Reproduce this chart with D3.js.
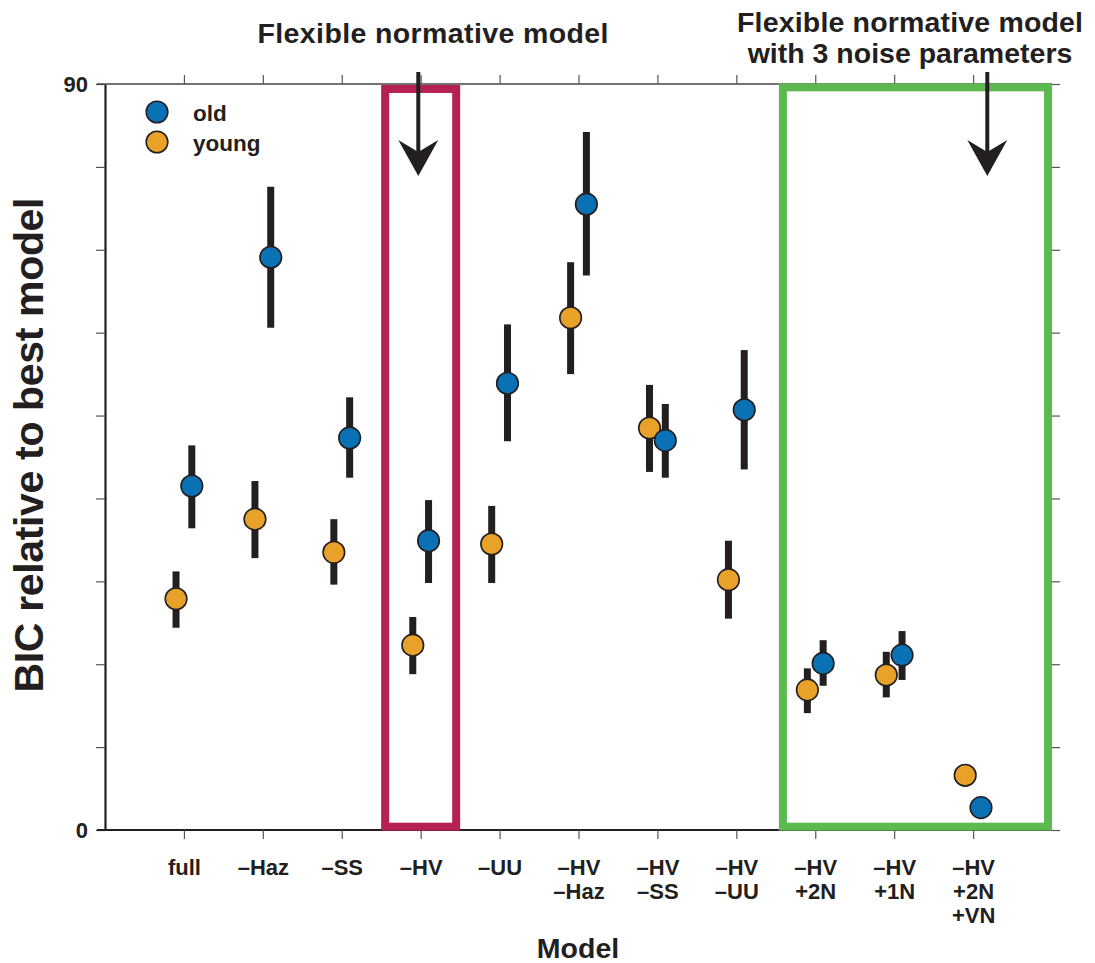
<!DOCTYPE html>
<html>
<head>
<meta charset="utf-8">
<script src="https://cdn.jsdelivr.net/npm/d3@7"></script>
<style>
  body { margin: 0; background: #fff; }
  svg text { font-family: "Liberation Sans", Arial, sans-serif; font-weight: bold; fill: #231f20; }
</style>
</head>
<body>
<svg id="chart" width="1095" height="963"></svg>
<script>
// model names (one entry per x position, lines split on "|")
const models = ["full", "–Haz", "–SS", "–HV", "–UU", "–HV|–Haz", "–HV|–SS", "–HV|–UU", "–HV|+2N", "–HV|+1N", "–HV|+2N|+VN"];

// BIC relative to best model, mean and error bar ends
const oldMean = [41.5, 69.1, 47.3, 34.9, 53.9, 75.5, 47.0, 50.7, 20.1, 21.1, 2.7];
const oldHi   = [46.4, 77.6, 52.2, 39.8, 61.0, 84.2, 51.4, 57.9, 22.9, 24.0, 2.7];
const oldLo   = [36.4, 60.6, 42.5, 29.8, 46.9, 66.9, 42.5, 43.5, 17.4, 18.1, 2.7];

const youngMean = [27.9, 37.5, 33.5, 22.3, 34.5, 61.8, 48.5, 30.2, 16.9, 18.7, 6.6];
const youngHi   = [31.2, 42.1, 37.5, 25.7, 39.1, 68.5, 53.7, 34.9, 19.5, 21.5, 6.6];
const youngLo   = [24.4, 32.8, 29.6, 18.8, 29.8, 55.0, 43.2, 25.5, 14.1, 16.0, 6.6];

const yTicks = d3.range(0, 91, 10);

const svg = d3.select("#chart");
const ink = "#231f20";

const x = d3.scaleLinear().domain([0, 12]).range([105, 1052]);
const y = d3.scaleLinear().domain([0, 90]).range([830, 84]);
const pos = models.map((d, i) => i + 1);

// left axis
const leftAxis = svg.append("g").attr("transform", `translate(${x(0)},0)`)
    .call(d3.axisLeft(y).tickValues(yTicks).tickSize(9).tickSizeOuter(0)
        .tickFormat(d => (d === 0 || d === 90) ? d : ""));
leftAxis.select(".domain").attr("stroke", ink).attr("stroke-width", 2.2);
leftAxis.selectAll(".tick line").attr("stroke", "#555").attr("stroke-width", 1.2);
leftAxis.selectAll(".tick text").attr("x", -17).attr("dy", "0.36em")
    .style("font-size", "22px")
    .style("font-family", "Liberation Sans, Arial, sans-serif").style("font-weight", "bold").attr("fill", ink);

// right ticks
const rightAxis = svg.append("g").attr("transform", `translate(${x(12)},0)`)
    .call(d3.axisRight(y).tickValues(yTicks).tickSize(8).tickFormat(""));
rightAxis.select(".domain").remove();
rightAxis.selectAll(".tick line").attr("stroke", "#555").attr("stroke-width", 1.2);

// top axis
const topAxis = svg.append("g").attr("transform", `translate(0,${y(90)})`)
    .call(d3.axisTop(x).tickValues(pos).tickSize(9).tickSizeOuter(0).tickFormat(""));
topAxis.select(".domain").attr("stroke", "#444").attr("stroke-width", 1.6).attr("d", `M${x(0) - 8},0H${x(12)}`);
topAxis.selectAll(".tick line").attr("stroke", "#555").attr("stroke-width", 1.2);

// bottom axis
const bottomAxis = svg.append("g").attr("transform", `translate(0,${y(0)})`)
    .call(d3.axisBottom(x).tickValues(pos).tickSize(9).tickSizeOuter(0).tickFormat(""));
bottomAxis.select(".domain").attr("stroke", ink).attr("stroke-width", 1.8).attr("d", `M${x(0) - 8},0H${x(12)}`);
bottomAxis.selectAll(".tick line").attr("stroke", "#555").attr("stroke-width", 1.2);

bottomAxis.selectAll(".tick").each(function(d, i) {
    const t = d3.select(this).append("text").attr("text-anchor", "middle")
        .style("font-size", "22px").attr("fill", ink)
        .style("font-family", "Liberation Sans, Arial, sans-serif").style("font-weight", "bold");
    models[i].split("|").forEach((s, k) => {
        t.append("tspan").attr("x", 0).attr("y", 45 + k * 24).text(s);
    });
});

// highlight boxes
svg.append("rect")
    .attr("x", x(3.55)).attr("y", y(89.4))
    .attr("width", x(4.45) - x(3.55)).attr("height", y(0.4) - y(89.4))
    .attr("fill", "none").attr("stroke", "#b42152").attr("stroke-width", 8);

svg.append("rect")
    .attr("x", x(8.59)).attr("y", y(89.6))
    .attr("width", x(11.95) - x(8.59)).attr("height", y(0.4) - y(89.6))
    .attr("fill", "none").attr("stroke", "#5cb94f").attr("stroke-width", 8);

// arrows
function arrow(cx) {
    svg.append("line").attr("x1", cx).attr("x2", cx).attr("y1", 72).attr("y2", 160)
        .attr("stroke", ink).attr("stroke-width", 4);
    svg.append("path")
        .attr("d", `M${cx},176 L${cx - 20},140 L${cx},152 L${cx + 20},140 Z`)
        .attr("fill", ink);
}
arrow(x(3.97));
arrow(x(11.18));

// error bars and points
const off = 0.1;
const series = [
    { mean: youngMean, hi: youngHi, lo: youngLo, dx: -off, color: "#e8a22a" },
    { mean: oldMean, hi: oldHi, lo: oldLo, dx: off, color: "#0a71b4" }
];

series.forEach(s => {
    svg.append("g").selectAll("line").data(pos)
        .join("line")
        .attr("x1", (d, i) => x(d + s.dx)).attr("x2", (d, i) => x(d + s.dx))
        .attr("y1", (d, i) => y(s.hi[i])).attr("y2", (d, i) => y(s.lo[i]))
        .attr("stroke", ink).attr("stroke-width", 7);
});
series.forEach(s => {
    svg.append("g").selectAll("circle").data(pos)
        .join("circle")
        .attr("cx", (d, i) => x(d + s.dx)).attr("cy", (d, i) => y(s.mean[i]))
        .attr("r", 10.8)
        .attr("fill", s.color).attr("stroke", ink).attr("stroke-width", 1.6);
});

// legend
const legend = [{ name: "old", color: "#0a71b4" }, { name: "young", color: "#e8a22a" }];
legend.forEach((d, i) => {
    svg.append("circle").attr("cx", 157).attr("cy", 112 + i * 30).attr("r", 10.8)
        .attr("fill", d.color).attr("stroke", ink).attr("stroke-width", 1.6);
    svg.append("text").attr("x", 193).attr("y", 121 + i * 30).attr("font-size", 22.5).text(d.name);
});

// titles
svg.append("text").attr("x", 433).attr("y", 43).attr("text-anchor", "middle")
    .attr("font-size", 28.5).attr("textLength", 351).text("Flexible normative model");
svg.append("text").attr("x", 910).attr("y", 32).attr("text-anchor", "middle")
    .attr("font-size", 28.5).attr("textLength", 346).text("Flexible normative model");
svg.append("text").attr("x", 910).attr("y", 63).attr("text-anchor", "middle")
    .attr("font-size", 28.5).text("with 3 noise parameters");

// axis titles
svg.append("text").attr("transform", `translate(43,445) rotate(-90)`)
    .attr("text-anchor", "middle").attr("font-size", 41).attr("textLength", 495).text("BIC relative to best model");
svg.append("text").attr("x", 578).attr("y", 958).attr("text-anchor", "middle")
    .attr("font-size", 28.5).text("Model");
</script>
</body>
</html>
